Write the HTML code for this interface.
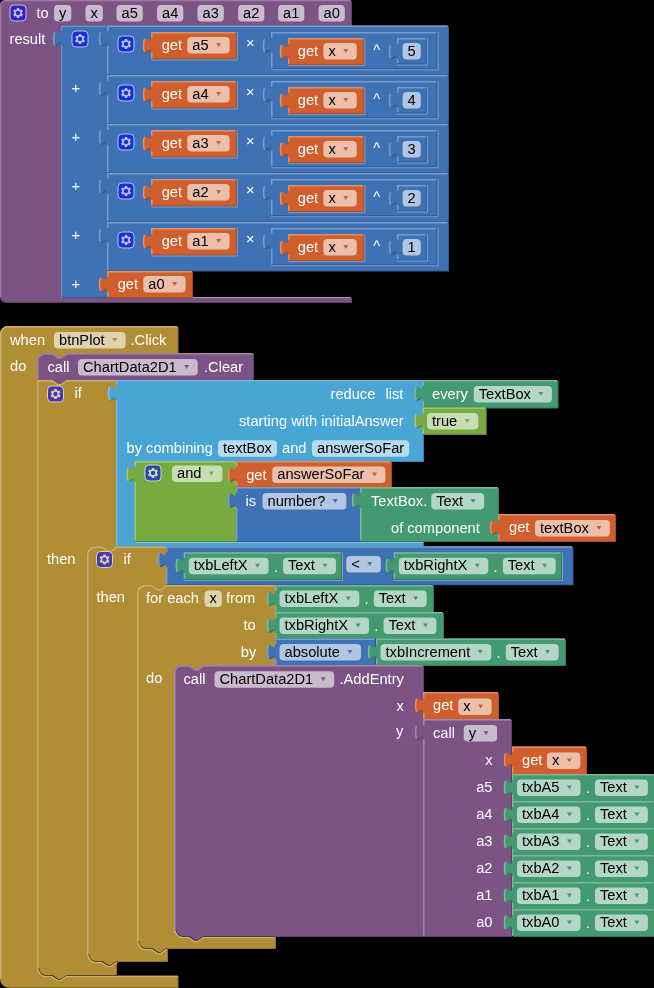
<!DOCTYPE html>
<html><head><meta charset="utf-8"><style>
html,body{margin:0;padding:0;background:#000;overflow:hidden;width:654px;height:988px;}
svg{display:block;will-change:transform;}
text{font-family:"Liberation Sans",sans-serif;font-size:14.67px;}
</style></head><body>
<svg width="654" height="988" viewBox="0 0 654 988">
<path transform="translate(1,1)" fill="#63426A" d="M 0,5 a5,5 0 0 1 5,-5 H 351 V 25.5 H 61 V 297 H 351 V 302 H 5 a5,5 0 0 1 -5,-5 Z"/>
<path fill="#7C5385" d="M 0,5 a5,5 0 0 1 5,-5 H 351 V 25.5 H 61 V 297 H 351 V 302 H 5 a5,5 0 0 1 -5,-5 Z"/>
<path fill="none" stroke="#A387AA" stroke-width="1" d="M 0.75,297 V 5 a4.25,4.25 0 0 1 4.25,-4.25 H 350.5"/>
<path fill="none" stroke="#B098B6" d="M 61,297.5 H 350.5"/>
<g transform="translate(10,5)" opacity="0.6"><rect rx="4" ry="4" width="16" height="16" fill="#00f" stroke="#fff" stroke-width="1"/><path fill="#fff" d="m4.203,7.296 0,1.368 -0.92,0.677 -0.11,0.41 0.9,1.559 0.41,0.11 1.043,-0.457 1.187,0.683 0.127,1.134 0.3,0.3 1.8,0 0.3,-0.299 0.127,-1.138 1.185,-0.682 1.046,0.458 0.409,-0.11 0.9,-1.559 -0.11,-0.41 -0.92,-0.677 0,-1.366 0.92,-0.677 0.11,-0.41 -0.9,-1.559 -0.409,-0.109 -1.046,0.458 -1.185,-0.682 -0.127,-1.138 -0.3,-0.299 -1.8,0 -0.3,0.3 -0.126,1.135 -1.187,0.682 -1.043,-0.457 -0.41,0.11 -0.899,1.559 0.108,0.409z"/><circle r="2.7" cx="8" cy="8" fill="#00f" stroke="#fff" stroke-width="1"/></g>
<text x="36.5" y="17.5" fill="#fff" xml:space="preserve">to</text>
<rect x="54" y="5" width="17.33" height="16.5" rx="4" ry="4" fill="#fff" fill-opacity="0.6"/>
<text x="59" y="17.6" fill="#000" xml:space="preserve">y</text>
<rect x="85.5" y="5" width="17.33" height="16.5" rx="4" ry="4" fill="#fff" fill-opacity="0.6"/>
<text x="90.5" y="17.6" fill="#000" xml:space="preserve">x</text>
<rect x="116.5" y="5" width="26.31" height="16.5" rx="4" ry="4" fill="#fff" fill-opacity="0.6"/>
<text x="121.5" y="17.6" fill="#000" xml:space="preserve">a5</text>
<rect x="157" y="5" width="26.31" height="16.5" rx="4" ry="4" fill="#fff" fill-opacity="0.6"/>
<text x="162" y="17.6" fill="#000" xml:space="preserve">a4</text>
<rect x="197.5" y="5" width="26.31" height="16.5" rx="4" ry="4" fill="#fff" fill-opacity="0.6"/>
<text x="202.5" y="17.6" fill="#000" xml:space="preserve">a3</text>
<rect x="238" y="5" width="26.31" height="16.5" rx="4" ry="4" fill="#fff" fill-opacity="0.6"/>
<text x="243" y="17.6" fill="#000" xml:space="preserve">a2</text>
<rect x="278" y="5" width="26.31" height="16.5" rx="4" ry="4" fill="#fff" fill-opacity="0.6"/>
<text x="283" y="17.6" fill="#000" xml:space="preserve">a1</text>
<rect x="318.5" y="5" width="26.31" height="16.5" rx="4" ry="4" fill="#fff" fill-opacity="0.6"/>
<text x="323.5" y="17.6" fill="#000" xml:space="preserve">a0</text>
<text x="9.5" y="44" fill="#fff" xml:space="preserve">result</text>
<path transform="translate(1,1)" fill="#325A91" d="M 61,25.5 H 107 V 297 H 61 V 45.5 c 0,-10 -8,8 -8,-7.5 s 8,2.5 8,-7.5 Z"/>
<path fill="#3F71B5" d="M 61,25.5 H 107 V 297 H 61 V 45.5 c 0,-10 -8,8 -8,-7.5 s 8,2.5 8,-7.5 Z"/>
<path fill="none" stroke="#799CCB" stroke-width="1" d="M 61.75,296.5 V 46 M 61.75,31 V 26.25 H 106.5"/>
<path fill="none" stroke="#799CCB" stroke-width="1.6" d="M 54.7,45.2 C 53.6,43.7 53.6,40.2 53.6,38.7 C 53.6,36.7 53.6,33.7 54.7,32.5"/>
<g transform="translate(72,31)" opacity="0.6"><rect rx="4" ry="4" width="16" height="16" fill="#00f" stroke="#fff" stroke-width="1"/><path fill="#fff" d="m4.203,7.296 0,1.368 -0.92,0.677 -0.11,0.41 0.9,1.559 0.41,0.11 1.043,-0.457 1.187,0.683 0.127,1.134 0.3,0.3 1.8,0 0.3,-0.299 0.127,-1.138 1.185,-0.682 1.046,0.458 0.409,-0.11 0.9,-1.559 -0.11,-0.41 -0.92,-0.677 0,-1.366 0.92,-0.677 0.11,-0.41 -0.9,-1.559 -0.409,-0.109 -1.046,0.458 -1.185,-0.682 -0.127,-1.138 -0.3,-0.299 -1.8,0 -0.3,0.3 -0.126,1.135 -1.187,0.682 -1.043,-0.457 -0.41,0.11 -0.899,1.559 0.108,0.409z"/><circle r="2.7" cx="8" cy="8" fill="#00f" stroke="#fff" stroke-width="1"/></g>
<text x="71.5" y="93" fill="#fff" xml:space="preserve">+</text>
<text x="71.5" y="142" fill="#fff" xml:space="preserve">+</text>
<text x="71.5" y="191" fill="#fff" xml:space="preserve">+</text>
<text x="71.5" y="240" fill="#fff" xml:space="preserve">+</text>
<text x="71.5" y="289" fill="#fff" xml:space="preserve">+</text>
<path transform="translate(1,1)" fill="#325A91" d="M 107,25.5 H 448 V 74.6 H 107 V 46.2 c 0,-10 -8,8 -8,-7.5 s 8,2.5 8,-7.5 Z"/>
<path fill="#3F71B5" d="M 107,25.5 H 448 V 74.6 H 107 V 46.2 c 0,-10 -8,8 -8,-7.5 s 8,2.5 8,-7.5 Z"/>
<path fill="none" stroke="#799CCB" stroke-width="1.5" d="M 107.75,74.1 V 46.2 M 107.75,31.2 V 26.25 H 447.5"/>
<path fill="none" stroke="#799CCB" stroke-width="1.6" d="M 100.7,45.2 C 99.6,43.7 99.6,40.2 99.6,38.7 C 99.6,36.7 99.6,33.7 100.7,32.5"/>
<g transform="translate(118,36)" opacity="0.6"><rect rx="4" ry="4" width="16" height="16" fill="#00f" stroke="#fff" stroke-width="1"/><path fill="#fff" d="m4.203,7.296 0,1.368 -0.92,0.677 -0.11,0.41 0.9,1.559 0.41,0.11 1.043,-0.457 1.187,0.683 0.127,1.134 0.3,0.3 1.8,0 0.3,-0.299 0.127,-1.138 1.185,-0.682 1.046,0.458 0.409,-0.11 0.9,-1.559 -0.11,-0.41 -0.92,-0.677 0,-1.366 0.92,-0.677 0.11,-0.41 -0.9,-1.559 -0.409,-0.109 -1.046,0.458 -1.185,-0.682 -0.127,-1.138 -0.3,-0.299 -1.8,0 -0.3,0.3 -0.126,1.135 -1.187,0.682 -1.043,-0.457 -0.41,0.11 -0.899,1.559 0.108,0.409z"/><circle r="2.7" cx="8" cy="8" fill="#00f" stroke="#fff" stroke-width="1"/></g>
<path transform="translate(1,1)" fill="#A64C24" d="M 151,32 H 235.8 V 58.5 H 151 V 52.7 c 0,-10 -8,8 -8,-7.5 s 8,2.5 8,-7.5 Z"/>
<path fill="#D05F2D" d="M 151,32 H 235.8 V 58.5 H 151 V 52.7 c 0,-10 -8,8 -8,-7.5 s 8,2.5 8,-7.5 Z"/>
<path fill="none" stroke="#DE8F6C" stroke-width="1.5" d="M 151.75,58 V 52.7 M 151.75,37.7 V 32.75 H 235.3"/>
<path fill="none" stroke="#DE8F6C" stroke-width="1.6" d="M 144.7,51.7 C 143.6,50.2 143.6,46.7 143.6,45.2 C 143.6,43.2 143.6,40.2 144.7,39"/>
<text x="161.7" y="50" fill="#fff" xml:space="preserve">get</text>
<rect x="187.3" y="37" width="42.31" height="16.5" rx="4" ry="4" fill="#fff" fill-opacity="0.6"/>
<text x="192.3" y="49.6" fill="#000" xml:space="preserve">a5</text>
<path fill="#D05F2D" d="M 216.11,43.05 h 5 l -2.5,4 z"/>
<path fill="none" stroke="#799CCB" d="M 151,60 H 237.3 V 32"/>
<text x="246" y="47.5" fill="#fff" xml:space="preserve">×</text>
<path transform="translate(1,1)" fill="#325A91" d="M 271,32 H 436.6 V 68.3 H 271 V 52.7 c 0,-10 -8,8 -8,-7.5 s 8,2.5 8,-7.5 Z"/>
<path fill="#3F71B5" d="M 271,32 H 436.6 V 68.3 H 271 V 52.7 c 0,-10 -8,8 -8,-7.5 s 8,2.5 8,-7.5 Z"/>
<path fill="none" stroke="#799CCB" stroke-width="1.5" d="M 271.75,67.8 V 52.7 M 271.75,37.7 V 32.75 H 436.1"/>
<path fill="none" stroke="#799CCB" stroke-width="1.6" d="M 264.7,51.7 C 263.6,50.2 263.6,46.7 263.6,45.2 C 263.6,43.2 263.6,40.2 264.7,39"/>
<path fill="none" stroke="#799CCB" d="M 271,69.8 H 438.1 V 32"/>
<path transform="translate(1,1)" fill="#A64C24" d="M 288,38 H 363.4 V 64.2 H 288 V 58.7 c 0,-10 -8,8 -8,-7.5 s 8,2.5 8,-7.5 Z"/>
<path fill="#D05F2D" d="M 288,38 H 363.4 V 64.2 H 288 V 58.7 c 0,-10 -8,8 -8,-7.5 s 8,2.5 8,-7.5 Z"/>
<path fill="none" stroke="#DE8F6C" stroke-width="1.5" d="M 288.75,63.7 V 58.7 M 288.75,43.7 V 38.75 H 362.9"/>
<path fill="none" stroke="#DE8F6C" stroke-width="1.6" d="M 281.7,57.7 C 280.6,56.2 280.6,52.7 280.6,51.2 C 280.6,49.2 280.6,46.2 281.7,45"/>
<text x="297.8" y="56" fill="#fff" xml:space="preserve">get</text>
<rect x="323.4" y="43" width="33.33" height="16.5" rx="4" ry="4" fill="#fff" fill-opacity="0.6"/>
<text x="328.4" y="55.6" fill="#000" xml:space="preserve">x</text>
<path fill="#D05F2D" d="M 343.23,49.05 h 5 l -2.5,4 z"/>
<path fill="none" stroke="#799CCB" d="M 288,65.7 H 364.9 V 38"/>
<text x="373.2" y="54.8" fill="#fff" xml:space="preserve">^</text>
<path transform="translate(1,1)" fill="#325A91" d="M 397,38 H 425.9 V 63.6 H 397 V 58.7 c 0,-10 -8,8 -8,-7.5 s 8,2.5 8,-7.5 Z"/>
<path fill="#3F71B5" d="M 397,38 H 425.9 V 63.6 H 397 V 58.7 c 0,-10 -8,8 -8,-7.5 s 8,2.5 8,-7.5 Z"/>
<path fill="none" stroke="#799CCB" stroke-width="1.5" d="M 397.75,63.1 V 58.7 M 397.75,43.7 V 38.75 H 425.4"/>
<path fill="none" stroke="#799CCB" stroke-width="1.6" d="M 390.7,57.7 C 389.6,56.2 389.6,52.7 389.6,51.2 C 389.6,49.2 389.6,46.2 390.7,45"/>
<rect x="402.6" y="43" width="18.16" height="16.5" rx="4" ry="4" fill="#fff" fill-opacity="0.6"/>
<text x="407.6" y="55.6" fill="#000" xml:space="preserve">5</text>
<path fill="none" stroke="#799CCB" d="M 397,65.1 H 427.4 V 38"/>
<path transform="translate(1,1)" fill="#325A91" d="M 107,75 H 448 V 123.6 H 107 V 95.7 c 0,-10 -8,8 -8,-7.5 s 8,2.5 8,-7.5 Z"/>
<path fill="#3F71B5" d="M 107,75 H 448 V 123.6 H 107 V 95.7 c 0,-10 -8,8 -8,-7.5 s 8,2.5 8,-7.5 Z"/>
<path fill="none" stroke="#799CCB" stroke-width="1.5" d="M 107.75,123.1 V 95.7 M 107.75,80.7 V 75.75 H 447.5"/>
<path fill="none" stroke="#799CCB" stroke-width="1.6" d="M 100.7,94.7 C 99.6,93.2 99.6,89.7 99.6,88.2 C 99.6,86.2 99.6,83.2 100.7,82"/>
<g transform="translate(118,85)" opacity="0.6"><rect rx="4" ry="4" width="16" height="16" fill="#00f" stroke="#fff" stroke-width="1"/><path fill="#fff" d="m4.203,7.296 0,1.368 -0.92,0.677 -0.11,0.41 0.9,1.559 0.41,0.11 1.043,-0.457 1.187,0.683 0.127,1.134 0.3,0.3 1.8,0 0.3,-0.299 0.127,-1.138 1.185,-0.682 1.046,0.458 0.409,-0.11 0.9,-1.559 -0.11,-0.41 -0.92,-0.677 0,-1.366 0.92,-0.677 0.11,-0.41 -0.9,-1.559 -0.409,-0.109 -1.046,0.458 -1.185,-0.682 -0.127,-1.138 -0.3,-0.299 -1.8,0 -0.3,0.3 -0.126,1.135 -1.187,0.682 -1.043,-0.457 -0.41,0.11 -0.899,1.559 0.108,0.409z"/><circle r="2.7" cx="8" cy="8" fill="#00f" stroke="#fff" stroke-width="1"/></g>
<path transform="translate(1,1)" fill="#A64C24" d="M 151,81 H 235.8 V 107.5 H 151 V 101.7 c 0,-10 -8,8 -8,-7.5 s 8,2.5 8,-7.5 Z"/>
<path fill="#D05F2D" d="M 151,81 H 235.8 V 107.5 H 151 V 101.7 c 0,-10 -8,8 -8,-7.5 s 8,2.5 8,-7.5 Z"/>
<path fill="none" stroke="#DE8F6C" stroke-width="1.5" d="M 151.75,107 V 101.7 M 151.75,86.7 V 81.75 H 235.3"/>
<path fill="none" stroke="#DE8F6C" stroke-width="1.6" d="M 144.7,100.7 C 143.6,99.2 143.6,95.7 143.6,94.2 C 143.6,92.2 143.6,89.2 144.7,88"/>
<text x="161.7" y="99" fill="#fff" xml:space="preserve">get</text>
<rect x="187.3" y="86" width="42.31" height="16.5" rx="4" ry="4" fill="#fff" fill-opacity="0.6"/>
<text x="192.3" y="98.6" fill="#000" xml:space="preserve">a4</text>
<path fill="#D05F2D" d="M 216.11,92.05 h 5 l -2.5,4 z"/>
<path fill="none" stroke="#799CCB" d="M 151,109 H 237.3 V 81"/>
<text x="246" y="96.5" fill="#fff" xml:space="preserve">×</text>
<path transform="translate(1,1)" fill="#325A91" d="M 271,81 H 436.6 V 117.3 H 271 V 101.7 c 0,-10 -8,8 -8,-7.5 s 8,2.5 8,-7.5 Z"/>
<path fill="#3F71B5" d="M 271,81 H 436.6 V 117.3 H 271 V 101.7 c 0,-10 -8,8 -8,-7.5 s 8,2.5 8,-7.5 Z"/>
<path fill="none" stroke="#799CCB" stroke-width="1.5" d="M 271.75,116.8 V 101.7 M 271.75,86.7 V 81.75 H 436.1"/>
<path fill="none" stroke="#799CCB" stroke-width="1.6" d="M 264.7,100.7 C 263.6,99.2 263.6,95.7 263.6,94.2 C 263.6,92.2 263.6,89.2 264.7,88"/>
<path fill="none" stroke="#799CCB" d="M 271,118.8 H 438.1 V 81"/>
<path transform="translate(1,1)" fill="#A64C24" d="M 288,87 H 363.4 V 113.2 H 288 V 107.7 c 0,-10 -8,8 -8,-7.5 s 8,2.5 8,-7.5 Z"/>
<path fill="#D05F2D" d="M 288,87 H 363.4 V 113.2 H 288 V 107.7 c 0,-10 -8,8 -8,-7.5 s 8,2.5 8,-7.5 Z"/>
<path fill="none" stroke="#DE8F6C" stroke-width="1.5" d="M 288.75,112.7 V 107.7 M 288.75,92.7 V 87.75 H 362.9"/>
<path fill="none" stroke="#DE8F6C" stroke-width="1.6" d="M 281.7,106.7 C 280.6,105.2 280.6,101.7 280.6,100.2 C 280.6,98.2 280.6,95.2 281.7,94"/>
<text x="297.8" y="105" fill="#fff" xml:space="preserve">get</text>
<rect x="323.4" y="92" width="33.33" height="16.5" rx="4" ry="4" fill="#fff" fill-opacity="0.6"/>
<text x="328.4" y="104.6" fill="#000" xml:space="preserve">x</text>
<path fill="#D05F2D" d="M 343.23,98.05 h 5 l -2.5,4 z"/>
<path fill="none" stroke="#799CCB" d="M 288,114.7 H 364.9 V 87"/>
<text x="373.2" y="103.8" fill="#fff" xml:space="preserve">^</text>
<path transform="translate(1,1)" fill="#325A91" d="M 397,87 H 425.9 V 112.6 H 397 V 107.7 c 0,-10 -8,8 -8,-7.5 s 8,2.5 8,-7.5 Z"/>
<path fill="#3F71B5" d="M 397,87 H 425.9 V 112.6 H 397 V 107.7 c 0,-10 -8,8 -8,-7.5 s 8,2.5 8,-7.5 Z"/>
<path fill="none" stroke="#799CCB" stroke-width="1.5" d="M 397.75,112.1 V 107.7 M 397.75,92.7 V 87.75 H 425.4"/>
<path fill="none" stroke="#799CCB" stroke-width="1.6" d="M 390.7,106.7 C 389.6,105.2 389.6,101.7 389.6,100.2 C 389.6,98.2 389.6,95.2 390.7,94"/>
<rect x="402.6" y="92" width="18.16" height="16.5" rx="4" ry="4" fill="#fff" fill-opacity="0.6"/>
<text x="407.6" y="104.6" fill="#000" xml:space="preserve">4</text>
<path fill="none" stroke="#799CCB" d="M 397,114.1 H 427.4 V 87"/>
<path transform="translate(1,1)" fill="#325A91" d="M 107,124 H 448 V 172.6 H 107 V 144.7 c 0,-10 -8,8 -8,-7.5 s 8,2.5 8,-7.5 Z"/>
<path fill="#3F71B5" d="M 107,124 H 448 V 172.6 H 107 V 144.7 c 0,-10 -8,8 -8,-7.5 s 8,2.5 8,-7.5 Z"/>
<path fill="none" stroke="#799CCB" stroke-width="1.5" d="M 107.75,172.1 V 144.7 M 107.75,129.7 V 124.75 H 447.5"/>
<path fill="none" stroke="#799CCB" stroke-width="1.6" d="M 100.7,143.7 C 99.6,142.2 99.6,138.7 99.6,137.2 C 99.6,135.2 99.6,132.2 100.7,131"/>
<g transform="translate(118,134)" opacity="0.6"><rect rx="4" ry="4" width="16" height="16" fill="#00f" stroke="#fff" stroke-width="1"/><path fill="#fff" d="m4.203,7.296 0,1.368 -0.92,0.677 -0.11,0.41 0.9,1.559 0.41,0.11 1.043,-0.457 1.187,0.683 0.127,1.134 0.3,0.3 1.8,0 0.3,-0.299 0.127,-1.138 1.185,-0.682 1.046,0.458 0.409,-0.11 0.9,-1.559 -0.11,-0.41 -0.92,-0.677 0,-1.366 0.92,-0.677 0.11,-0.41 -0.9,-1.559 -0.409,-0.109 -1.046,0.458 -1.185,-0.682 -0.127,-1.138 -0.3,-0.299 -1.8,0 -0.3,0.3 -0.126,1.135 -1.187,0.682 -1.043,-0.457 -0.41,0.11 -0.899,1.559 0.108,0.409z"/><circle r="2.7" cx="8" cy="8" fill="#00f" stroke="#fff" stroke-width="1"/></g>
<path transform="translate(1,1)" fill="#A64C24" d="M 151,130 H 235.8 V 156.5 H 151 V 150.7 c 0,-10 -8,8 -8,-7.5 s 8,2.5 8,-7.5 Z"/>
<path fill="#D05F2D" d="M 151,130 H 235.8 V 156.5 H 151 V 150.7 c 0,-10 -8,8 -8,-7.5 s 8,2.5 8,-7.5 Z"/>
<path fill="none" stroke="#DE8F6C" stroke-width="1.5" d="M 151.75,156 V 150.7 M 151.75,135.7 V 130.75 H 235.3"/>
<path fill="none" stroke="#DE8F6C" stroke-width="1.6" d="M 144.7,149.7 C 143.6,148.2 143.6,144.7 143.6,143.2 C 143.6,141.2 143.6,138.2 144.7,137"/>
<text x="161.7" y="148" fill="#fff" xml:space="preserve">get</text>
<rect x="187.3" y="135" width="42.31" height="16.5" rx="4" ry="4" fill="#fff" fill-opacity="0.6"/>
<text x="192.3" y="147.6" fill="#000" xml:space="preserve">a3</text>
<path fill="#D05F2D" d="M 216.11,141.05 h 5 l -2.5,4 z"/>
<path fill="none" stroke="#799CCB" d="M 151,158 H 237.3 V 130"/>
<text x="246" y="145.5" fill="#fff" xml:space="preserve">×</text>
<path transform="translate(1,1)" fill="#325A91" d="M 271,130 H 436.6 V 166.3 H 271 V 150.7 c 0,-10 -8,8 -8,-7.5 s 8,2.5 8,-7.5 Z"/>
<path fill="#3F71B5" d="M 271,130 H 436.6 V 166.3 H 271 V 150.7 c 0,-10 -8,8 -8,-7.5 s 8,2.5 8,-7.5 Z"/>
<path fill="none" stroke="#799CCB" stroke-width="1.5" d="M 271.75,165.8 V 150.7 M 271.75,135.7 V 130.75 H 436.1"/>
<path fill="none" stroke="#799CCB" stroke-width="1.6" d="M 264.7,149.7 C 263.6,148.2 263.6,144.7 263.6,143.2 C 263.6,141.2 263.6,138.2 264.7,137"/>
<path fill="none" stroke="#799CCB" d="M 271,167.8 H 438.1 V 130"/>
<path transform="translate(1,1)" fill="#A64C24" d="M 288,136 H 363.4 V 162.2 H 288 V 156.7 c 0,-10 -8,8 -8,-7.5 s 8,2.5 8,-7.5 Z"/>
<path fill="#D05F2D" d="M 288,136 H 363.4 V 162.2 H 288 V 156.7 c 0,-10 -8,8 -8,-7.5 s 8,2.5 8,-7.5 Z"/>
<path fill="none" stroke="#DE8F6C" stroke-width="1.5" d="M 288.75,161.7 V 156.7 M 288.75,141.7 V 136.75 H 362.9"/>
<path fill="none" stroke="#DE8F6C" stroke-width="1.6" d="M 281.7,155.7 C 280.6,154.2 280.6,150.7 280.6,149.2 C 280.6,147.2 280.6,144.2 281.7,143"/>
<text x="297.8" y="154" fill="#fff" xml:space="preserve">get</text>
<rect x="323.4" y="141" width="33.33" height="16.5" rx="4" ry="4" fill="#fff" fill-opacity="0.6"/>
<text x="328.4" y="153.6" fill="#000" xml:space="preserve">x</text>
<path fill="#D05F2D" d="M 343.23,147.05 h 5 l -2.5,4 z"/>
<path fill="none" stroke="#799CCB" d="M 288,163.7 H 364.9 V 136"/>
<text x="373.2" y="152.8" fill="#fff" xml:space="preserve">^</text>
<path transform="translate(1,1)" fill="#325A91" d="M 397,136 H 425.9 V 161.6 H 397 V 156.7 c 0,-10 -8,8 -8,-7.5 s 8,2.5 8,-7.5 Z"/>
<path fill="#3F71B5" d="M 397,136 H 425.9 V 161.6 H 397 V 156.7 c 0,-10 -8,8 -8,-7.5 s 8,2.5 8,-7.5 Z"/>
<path fill="none" stroke="#799CCB" stroke-width="1.5" d="M 397.75,161.1 V 156.7 M 397.75,141.7 V 136.75 H 425.4"/>
<path fill="none" stroke="#799CCB" stroke-width="1.6" d="M 390.7,155.7 C 389.6,154.2 389.6,150.7 389.6,149.2 C 389.6,147.2 389.6,144.2 390.7,143"/>
<rect x="402.6" y="141" width="18.16" height="16.5" rx="4" ry="4" fill="#fff" fill-opacity="0.6"/>
<text x="407.6" y="153.6" fill="#000" xml:space="preserve">3</text>
<path fill="none" stroke="#799CCB" d="M 397,163.1 H 427.4 V 136"/>
<path transform="translate(1,1)" fill="#325A91" d="M 107,173 H 448 V 221.6 H 107 V 193.7 c 0,-10 -8,8 -8,-7.5 s 8,2.5 8,-7.5 Z"/>
<path fill="#3F71B5" d="M 107,173 H 448 V 221.6 H 107 V 193.7 c 0,-10 -8,8 -8,-7.5 s 8,2.5 8,-7.5 Z"/>
<path fill="none" stroke="#799CCB" stroke-width="1.5" d="M 107.75,221.1 V 193.7 M 107.75,178.7 V 173.75 H 447.5"/>
<path fill="none" stroke="#799CCB" stroke-width="1.6" d="M 100.7,192.7 C 99.6,191.2 99.6,187.7 99.6,186.2 C 99.6,184.2 99.6,181.2 100.7,180"/>
<g transform="translate(118,183)" opacity="0.6"><rect rx="4" ry="4" width="16" height="16" fill="#00f" stroke="#fff" stroke-width="1"/><path fill="#fff" d="m4.203,7.296 0,1.368 -0.92,0.677 -0.11,0.41 0.9,1.559 0.41,0.11 1.043,-0.457 1.187,0.683 0.127,1.134 0.3,0.3 1.8,0 0.3,-0.299 0.127,-1.138 1.185,-0.682 1.046,0.458 0.409,-0.11 0.9,-1.559 -0.11,-0.41 -0.92,-0.677 0,-1.366 0.92,-0.677 0.11,-0.41 -0.9,-1.559 -0.409,-0.109 -1.046,0.458 -1.185,-0.682 -0.127,-1.138 -0.3,-0.299 -1.8,0 -0.3,0.3 -0.126,1.135 -1.187,0.682 -1.043,-0.457 -0.41,0.11 -0.899,1.559 0.108,0.409z"/><circle r="2.7" cx="8" cy="8" fill="#00f" stroke="#fff" stroke-width="1"/></g>
<path transform="translate(1,1)" fill="#A64C24" d="M 151,179 H 235.8 V 205.5 H 151 V 199.7 c 0,-10 -8,8 -8,-7.5 s 8,2.5 8,-7.5 Z"/>
<path fill="#D05F2D" d="M 151,179 H 235.8 V 205.5 H 151 V 199.7 c 0,-10 -8,8 -8,-7.5 s 8,2.5 8,-7.5 Z"/>
<path fill="none" stroke="#DE8F6C" stroke-width="1.5" d="M 151.75,205 V 199.7 M 151.75,184.7 V 179.75 H 235.3"/>
<path fill="none" stroke="#DE8F6C" stroke-width="1.6" d="M 144.7,198.7 C 143.6,197.2 143.6,193.7 143.6,192.2 C 143.6,190.2 143.6,187.2 144.7,186"/>
<text x="161.7" y="197" fill="#fff" xml:space="preserve">get</text>
<rect x="187.3" y="184" width="42.31" height="16.5" rx="4" ry="4" fill="#fff" fill-opacity="0.6"/>
<text x="192.3" y="196.6" fill="#000" xml:space="preserve">a2</text>
<path fill="#D05F2D" d="M 216.11,190.05 h 5 l -2.5,4 z"/>
<path fill="none" stroke="#799CCB" d="M 151,207 H 237.3 V 179"/>
<text x="246" y="194.5" fill="#fff" xml:space="preserve">×</text>
<path transform="translate(1,1)" fill="#325A91" d="M 271,179 H 436.6 V 215.3 H 271 V 199.7 c 0,-10 -8,8 -8,-7.5 s 8,2.5 8,-7.5 Z"/>
<path fill="#3F71B5" d="M 271,179 H 436.6 V 215.3 H 271 V 199.7 c 0,-10 -8,8 -8,-7.5 s 8,2.5 8,-7.5 Z"/>
<path fill="none" stroke="#799CCB" stroke-width="1.5" d="M 271.75,214.8 V 199.7 M 271.75,184.7 V 179.75 H 436.1"/>
<path fill="none" stroke="#799CCB" stroke-width="1.6" d="M 264.7,198.7 C 263.6,197.2 263.6,193.7 263.6,192.2 C 263.6,190.2 263.6,187.2 264.7,186"/>
<path fill="none" stroke="#799CCB" d="M 271,216.8 H 438.1 V 179"/>
<path transform="translate(1,1)" fill="#A64C24" d="M 288,185 H 363.4 V 211.2 H 288 V 205.7 c 0,-10 -8,8 -8,-7.5 s 8,2.5 8,-7.5 Z"/>
<path fill="#D05F2D" d="M 288,185 H 363.4 V 211.2 H 288 V 205.7 c 0,-10 -8,8 -8,-7.5 s 8,2.5 8,-7.5 Z"/>
<path fill="none" stroke="#DE8F6C" stroke-width="1.5" d="M 288.75,210.7 V 205.7 M 288.75,190.7 V 185.75 H 362.9"/>
<path fill="none" stroke="#DE8F6C" stroke-width="1.6" d="M 281.7,204.7 C 280.6,203.2 280.6,199.7 280.6,198.2 C 280.6,196.2 280.6,193.2 281.7,192"/>
<text x="297.8" y="203" fill="#fff" xml:space="preserve">get</text>
<rect x="323.4" y="190" width="33.33" height="16.5" rx="4" ry="4" fill="#fff" fill-opacity="0.6"/>
<text x="328.4" y="202.6" fill="#000" xml:space="preserve">x</text>
<path fill="#D05F2D" d="M 343.23,196.05 h 5 l -2.5,4 z"/>
<path fill="none" stroke="#799CCB" d="M 288,212.7 H 364.9 V 185"/>
<text x="373.2" y="201.8" fill="#fff" xml:space="preserve">^</text>
<path transform="translate(1,1)" fill="#325A91" d="M 397,185 H 425.9 V 210.6 H 397 V 205.7 c 0,-10 -8,8 -8,-7.5 s 8,2.5 8,-7.5 Z"/>
<path fill="#3F71B5" d="M 397,185 H 425.9 V 210.6 H 397 V 205.7 c 0,-10 -8,8 -8,-7.5 s 8,2.5 8,-7.5 Z"/>
<path fill="none" stroke="#799CCB" stroke-width="1.5" d="M 397.75,210.1 V 205.7 M 397.75,190.7 V 185.75 H 425.4"/>
<path fill="none" stroke="#799CCB" stroke-width="1.6" d="M 390.7,204.7 C 389.6,203.2 389.6,199.7 389.6,198.2 C 389.6,196.2 389.6,193.2 390.7,192"/>
<rect x="402.6" y="190" width="18.16" height="16.5" rx="4" ry="4" fill="#fff" fill-opacity="0.6"/>
<text x="407.6" y="202.6" fill="#000" xml:space="preserve">2</text>
<path fill="none" stroke="#799CCB" d="M 397,212.1 H 427.4 V 185"/>
<path transform="translate(1,1)" fill="#325A91" d="M 107,222 H 448 V 270.6 H 107 V 242.7 c 0,-10 -8,8 -8,-7.5 s 8,2.5 8,-7.5 Z"/>
<path fill="#3F71B5" d="M 107,222 H 448 V 270.6 H 107 V 242.7 c 0,-10 -8,8 -8,-7.5 s 8,2.5 8,-7.5 Z"/>
<path fill="none" stroke="#799CCB" stroke-width="1.5" d="M 107.75,270.1 V 242.7 M 107.75,227.7 V 222.75 H 447.5"/>
<path fill="none" stroke="#799CCB" stroke-width="1.6" d="M 100.7,241.7 C 99.6,240.2 99.6,236.7 99.6,235.2 C 99.6,233.2 99.6,230.2 100.7,229"/>
<g transform="translate(118,232)" opacity="0.6"><rect rx="4" ry="4" width="16" height="16" fill="#00f" stroke="#fff" stroke-width="1"/><path fill="#fff" d="m4.203,7.296 0,1.368 -0.92,0.677 -0.11,0.41 0.9,1.559 0.41,0.11 1.043,-0.457 1.187,0.683 0.127,1.134 0.3,0.3 1.8,0 0.3,-0.299 0.127,-1.138 1.185,-0.682 1.046,0.458 0.409,-0.11 0.9,-1.559 -0.11,-0.41 -0.92,-0.677 0,-1.366 0.92,-0.677 0.11,-0.41 -0.9,-1.559 -0.409,-0.109 -1.046,0.458 -1.185,-0.682 -0.127,-1.138 -0.3,-0.299 -1.8,0 -0.3,0.3 -0.126,1.135 -1.187,0.682 -1.043,-0.457 -0.41,0.11 -0.899,1.559 0.108,0.409z"/><circle r="2.7" cx="8" cy="8" fill="#00f" stroke="#fff" stroke-width="1"/></g>
<path transform="translate(1,1)" fill="#A64C24" d="M 151,228 H 235.8 V 254.5 H 151 V 248.7 c 0,-10 -8,8 -8,-7.5 s 8,2.5 8,-7.5 Z"/>
<path fill="#D05F2D" d="M 151,228 H 235.8 V 254.5 H 151 V 248.7 c 0,-10 -8,8 -8,-7.5 s 8,2.5 8,-7.5 Z"/>
<path fill="none" stroke="#DE8F6C" stroke-width="1.5" d="M 151.75,254 V 248.7 M 151.75,233.7 V 228.75 H 235.3"/>
<path fill="none" stroke="#DE8F6C" stroke-width="1.6" d="M 144.7,247.7 C 143.6,246.2 143.6,242.7 143.6,241.2 C 143.6,239.2 143.6,236.2 144.7,235"/>
<text x="161.7" y="246" fill="#fff" xml:space="preserve">get</text>
<rect x="187.3" y="233" width="42.31" height="16.5" rx="4" ry="4" fill="#fff" fill-opacity="0.6"/>
<text x="192.3" y="245.6" fill="#000" xml:space="preserve">a1</text>
<path fill="#D05F2D" d="M 216.11,239.05 h 5 l -2.5,4 z"/>
<path fill="none" stroke="#799CCB" d="M 151,256 H 237.3 V 228"/>
<text x="246" y="243.5" fill="#fff" xml:space="preserve">×</text>
<path transform="translate(1,1)" fill="#325A91" d="M 271,228 H 436.6 V 264.3 H 271 V 248.7 c 0,-10 -8,8 -8,-7.5 s 8,2.5 8,-7.5 Z"/>
<path fill="#3F71B5" d="M 271,228 H 436.6 V 264.3 H 271 V 248.7 c 0,-10 -8,8 -8,-7.5 s 8,2.5 8,-7.5 Z"/>
<path fill="none" stroke="#799CCB" stroke-width="1.5" d="M 271.75,263.8 V 248.7 M 271.75,233.7 V 228.75 H 436.1"/>
<path fill="none" stroke="#799CCB" stroke-width="1.6" d="M 264.7,247.7 C 263.6,246.2 263.6,242.7 263.6,241.2 C 263.6,239.2 263.6,236.2 264.7,235"/>
<path fill="none" stroke="#799CCB" d="M 271,265.8 H 438.1 V 228"/>
<path transform="translate(1,1)" fill="#A64C24" d="M 288,234 H 363.4 V 260.2 H 288 V 254.7 c 0,-10 -8,8 -8,-7.5 s 8,2.5 8,-7.5 Z"/>
<path fill="#D05F2D" d="M 288,234 H 363.4 V 260.2 H 288 V 254.7 c 0,-10 -8,8 -8,-7.5 s 8,2.5 8,-7.5 Z"/>
<path fill="none" stroke="#DE8F6C" stroke-width="1.5" d="M 288.75,259.7 V 254.7 M 288.75,239.7 V 234.75 H 362.9"/>
<path fill="none" stroke="#DE8F6C" stroke-width="1.6" d="M 281.7,253.7 C 280.6,252.2 280.6,248.7 280.6,247.2 C 280.6,245.2 280.6,242.2 281.7,241"/>
<text x="297.8" y="252" fill="#fff" xml:space="preserve">get</text>
<rect x="323.4" y="239" width="33.33" height="16.5" rx="4" ry="4" fill="#fff" fill-opacity="0.6"/>
<text x="328.4" y="251.6" fill="#000" xml:space="preserve">x</text>
<path fill="#D05F2D" d="M 343.23,245.05 h 5 l -2.5,4 z"/>
<path fill="none" stroke="#799CCB" d="M 288,261.7 H 364.9 V 234"/>
<text x="373.2" y="250.8" fill="#fff" xml:space="preserve">^</text>
<path transform="translate(1,1)" fill="#325A91" d="M 397,234 H 425.9 V 259.6 H 397 V 254.7 c 0,-10 -8,8 -8,-7.5 s 8,2.5 8,-7.5 Z"/>
<path fill="#3F71B5" d="M 397,234 H 425.9 V 259.6 H 397 V 254.7 c 0,-10 -8,8 -8,-7.5 s 8,2.5 8,-7.5 Z"/>
<path fill="none" stroke="#799CCB" stroke-width="1.5" d="M 397.75,259.1 V 254.7 M 397.75,239.7 V 234.75 H 425.4"/>
<path fill="none" stroke="#799CCB" stroke-width="1.6" d="M 390.7,253.7 C 389.6,252.2 389.6,248.7 389.6,247.2 C 389.6,245.2 389.6,242.2 390.7,241"/>
<rect x="402.6" y="239" width="18.16" height="16.5" rx="4" ry="4" fill="#fff" fill-opacity="0.6"/>
<text x="407.6" y="251.6" fill="#000" xml:space="preserve">1</text>
<path fill="none" stroke="#799CCB" d="M 397,261.1 H 427.4 V 234"/>
<path transform="translate(1,1)" fill="#A64C24" d="M 107,271 H 192 V 297 H 107 V 291.7 c 0,-10 -8,8 -8,-7.5 s 8,2.5 8,-7.5 Z"/>
<path fill="#D05F2D" d="M 107,271 H 192 V 297 H 107 V 291.7 c 0,-10 -8,8 -8,-7.5 s 8,2.5 8,-7.5 Z"/>
<path fill="none" stroke="#DE8F6C" stroke-width="1.5" d="M 107.75,296.5 V 291.7 M 107.75,276.7 V 271.75 H 191.5"/>
<path fill="none" stroke="#DE8F6C" stroke-width="1.6" d="M 100.7,290.7 C 99.6,289.2 99.6,285.7 99.6,284.2 C 99.6,282.2 99.6,279.2 100.7,278"/>
<text x="117.7" y="289" fill="#fff" xml:space="preserve">get</text>
<rect x="143.3" y="276" width="42.31" height="16.5" rx="4" ry="4" fill="#fff" fill-opacity="0.6"/>
<text x="148.3" y="288.6" fill="#000" xml:space="preserve">a0</text>
<path fill="#D05F2D" d="M 172.11,282.05 h 5 l -2.5,4 z"/>
<path transform="translate(1,1)" fill="#8E722A" d="M 0,334 a8,8 0 0 1 8,-8 H 177.5 H 177.5 V 353 H 67 l -6,4 -3,0 -6,-4 H 45 a8,8 0 0 0 -8,8 V 967 a8,8 0 0 0 8,8 H 177.5 V 987 H 8 a8,8 0 0 1 -8,-8 Z"/>
<path fill="#B18E35" d="M 0,334 a8,8 0 0 1 8,-8 H 177.5 H 177.5 V 353 H 67 l -6,4 -3,0 -6,-4 H 45 a8,8 0 0 0 -8,8 V 967 a8,8 0 0 0 8,8 H 177.5 V 987 H 8 a8,8 0 0 1 -8,-8 Z"/>
<path fill="none" stroke="#C8B072" stroke-width="1.5" d="M 0.75,979 V 334 a7.25,7.25 0 0 1 7.25,-7.25 H 177"/>
<text x="10" y="345" fill="#fff" xml:space="preserve">when</text>
<rect x="54" y="332" width="71.66" height="16.5" rx="4" ry="4" fill="#fff" fill-opacity="0.6"/>
<text x="59" y="344.6" fill="#000" xml:space="preserve">btnPlot</text>
<path fill="#B18E35" d="M 112.16,338.05 h 5 l -2.5,4 z"/>
<text x="130.5" y="345" fill="#fff" xml:space="preserve">.Click</text>
<text x="10" y="370.5" fill="#fff" xml:space="preserve">do</text>
<path transform="translate(1,1)" fill="#63426A" d="M 37,361 a8,8 0 0 1 8,-8 H 52 l 6,4 3,0 6,-4 H 253 V 380 H 67 l -6,4 -3,0 -6,-4 H 37 Z"/>
<path fill="#7C5385" d="M 37,361 a8,8 0 0 1 8,-8 H 52 l 6,4 3,0 6,-4 H 253 V 380 H 67 l -6,4 -3,0 -6,-4 H 37 Z"/>
<path fill="none" stroke="#A387AA" stroke-width="1.5" d="M 37.75,379.5 V 361 a7.25,7.25 0 0 1 7.25,-7.25 H 52 l 6,4 3,0 6,-4 H 252.5"/>
<text x="47.5" y="372" fill="#fff" xml:space="preserve">call</text>
<rect x="78" y="359" width="119.7" height="16.5" rx="4" ry="4" fill="#fff" fill-opacity="0.6"/>
<text x="83" y="371.6" fill="#000" xml:space="preserve">ChartData2D1</text>
<path fill="#7C5385" d="M 184.2,365.05 h 5 l -2.5,4 z"/>
<text x="204" y="372" fill="#fff" xml:space="preserve">.Clear</text>
<path transform="translate(1,1)" fill="#8E722A" d="M 37,380 H 52 l 6,4 3,0 6,-4 H 116 H 116 V 546.5 H 117 l -6,4 -3,0 -6,-4 H 95 a8,8 0 0 0 -8,8 V 953 a8,8 0 0 0 8,8 H 116 V 975 H 67 l -6,4 -3,0 -6,-4 H 45 a8,8 0 0 1 -8,-8 Z"/>
<path fill="#B18E35" d="M 37,380 H 52 l 6,4 3,0 6,-4 H 116 H 116 V 546.5 H 117 l -6,4 -3,0 -6,-4 H 95 a8,8 0 0 0 -8,8 V 953 a8,8 0 0 0 8,8 H 116 V 975 H 67 l -6,4 -3,0 -6,-4 H 45 a8,8 0 0 1 -8,-8 Z"/>
<path fill="none" stroke="#C8B072" stroke-width="1.5" d="M 37.75,967 V 380.75 H 52 l 6,4 3,0 6,-4 H 115.5"/>
<g transform="translate(47.5,386)" opacity="0.6"><rect rx="4" ry="4" width="16" height="16" fill="#00f" stroke="#fff" stroke-width="1"/><path fill="#fff" d="m4.203,7.296 0,1.368 -0.92,0.677 -0.11,0.41 0.9,1.559 0.41,0.11 1.043,-0.457 1.187,0.683 0.127,1.134 0.3,0.3 1.8,0 0.3,-0.299 0.127,-1.138 1.185,-0.682 1.046,0.458 0.409,-0.11 0.9,-1.559 -0.11,-0.41 -0.92,-0.677 0,-1.366 0.92,-0.677 0.11,-0.41 -0.9,-1.559 -0.409,-0.109 -1.046,0.458 -1.185,-0.682 -0.127,-1.138 -0.3,-0.299 -1.8,0 -0.3,0.3 -0.126,1.135 -1.187,0.682 -1.043,-0.457 -0.41,0.11 -0.899,1.559 0.108,0.409z"/><circle r="2.7" cx="8" cy="8" fill="#00f" stroke="#fff" stroke-width="1"/></g>
<text x="74.5" y="397.5" fill="#fff" xml:space="preserve">if</text>
<text x="47" y="564" fill="#fff" xml:space="preserve">then</text>
<path transform="translate(1,1)" fill="#3A85AA" d="M 116,380 H 423 V 461 H 134.5 V 541 H 423 V 546.5 H 116 V 400.7 c 0,-10 -8,8 -8,-7.5 s 8,2.5 8,-7.5 Z"/>
<path fill="#49A6D4" d="M 116,380 H 423 V 461 H 134.5 V 541 H 423 V 546.5 H 116 V 400.7 c 0,-10 -8,8 -8,-7.5 s 8,2.5 8,-7.5 Z"/>
<path fill="none" stroke="#80C1E1" stroke-width="1" d="M 116.75,546 V 400 M 116.75,385 V 380.75 H 422.5"/>
<path fill="none" stroke="#80C1E1" stroke-width="1.6" d="M 109.7,399.7 C 108.6,398.2 108.6,394.7 108.6,393.2 C 108.6,391.2 108.6,388.2 109.7,387"/>
<text x="330.5" y="399" fill="#fff" xml:space="preserve">reduce</text>
<text x="385.5" y="399" fill="#fff" xml:space="preserve">list</text>
<text x="239" y="426" fill="#fff" xml:space="preserve">starting with initialAnswer</text>
<text x="126.5" y="452.5" fill="#fff" xml:space="preserve">by combining</text>
<rect x="218" y="440.3" width="58.91" height="16.5" rx="4" ry="4" fill="#fff" fill-opacity="0.6"/>
<text x="223" y="452.9" fill="#000" xml:space="preserve">textBox</text>
<text x="282" y="452.5" fill="#fff" xml:space="preserve">and</text>
<rect x="312" y="440.3" width="97.17" height="16.5" rx="4" ry="4" fill="#fff" fill-opacity="0.6"/>
<text x="317" y="452.9" fill="#000" xml:space="preserve">answerSoFar</text>
<path transform="translate(1,1)" fill="#367A5A" d="M 422.5,380 H 557.5 V 407.5 H 422.5 V 400.7 c 0,-10 -8,8 -8,-7.5 s 8,2.5 8,-7.5 Z"/>
<path fill="#439970" d="M 422.5,380 H 557.5 V 407.5 H 422.5 V 400.7 c 0,-10 -8,8 -8,-7.5 s 8,2.5 8,-7.5 Z"/>
<path fill="none" stroke="#7BB89B" stroke-width="1.5" d="M 423.25,407 V 400.7 M 423.25,385.7 V 380.75 H 557"/>
<path fill="none" stroke="#7BB89B" stroke-width="1.6" d="M 416.2,399.7 C 415.1,398.2 415.1,394.7 415.1,393.2 C 415.1,391.2 415.1,388.2 416.2,387"/>
<text x="432" y="398.5" fill="#fff" xml:space="preserve">every</text>
<rect x="473.75" y="386" width="78.16" height="16.5" rx="4" ry="4" fill="#fff" fill-opacity="0.6"/>
<text x="478.75" y="398.6" fill="#000" xml:space="preserve">TextBox</text>
<path fill="#439970" d="M 538.41,392.05 h 5 l -2.5,4 z"/>
<path transform="translate(1,1)" fill="#5F8934" d="M 422.5,407.5 H 485.75 V 434 H 422.5 V 428.2 c 0,-10 -8,8 -8,-7.5 s 8,2.5 8,-7.5 Z"/>
<path fill="#77AB41" d="M 422.5,407.5 H 485.75 V 434 H 422.5 V 428.2 c 0,-10 -8,8 -8,-7.5 s 8,2.5 8,-7.5 Z"/>
<path fill="none" stroke="#A0C47A" stroke-width="1.5" d="M 423.25,433.5 V 428.2 M 423.25,413.2 V 408.25 H 485.25"/>
<path fill="none" stroke="#A0C47A" stroke-width="1.6" d="M 416.2,427.2 C 415.1,425.7 415.1,422.2 415.1,420.7 C 415.1,418.7 415.1,415.7 416.2,414.5"/>
<rect x="427" y="413" width="51.27" height="16.5" rx="4" ry="4" fill="#fff" fill-opacity="0.6"/>
<text x="432" y="425.6" fill="#000" xml:space="preserve">true</text>
<path fill="#77AB41" d="M 464.77,419.05 h 5 l -2.5,4 z"/>
<path transform="translate(1,1)" fill="#5F8934" d="M 134.5,461 H 236 V 541 H 134.5 V 481.7 c 0,-10 -8,8 -8,-7.5 s 8,2.5 8,-7.5 Z"/>
<path fill="#77AB41" d="M 134.5,461 H 236 V 541 H 134.5 V 481.7 c 0,-10 -8,8 -8,-7.5 s 8,2.5 8,-7.5 Z"/>
<path fill="none" stroke="#A0C47A" stroke-width="1.5" d="M 135.25,540.5 V 481.7 M 135.25,466.7 V 461.75 H 235.5"/>
<path fill="none" stroke="#A0C47A" stroke-width="1.6" d="M 128.2,480.7 C 127.1,479.2 127.1,475.7 127.1,474.2 C 127.1,472.2 127.1,469.2 128.2,468"/>
<g transform="translate(145,465)" opacity="0.6"><rect rx="4" ry="4" width="16" height="16" fill="#00f" stroke="#fff" stroke-width="1"/><path fill="#fff" d="m4.203,7.296 0,1.368 -0.92,0.677 -0.11,0.41 0.9,1.559 0.41,0.11 1.043,-0.457 1.187,0.683 0.127,1.134 0.3,0.3 1.8,0 0.3,-0.299 0.127,-1.138 1.185,-0.682 1.046,0.458 0.409,-0.11 0.9,-1.559 -0.11,-0.41 -0.92,-0.677 0,-1.366 0.92,-0.677 0.11,-0.41 -0.9,-1.559 -0.409,-0.109 -1.046,0.458 -1.185,-0.682 -0.127,-1.138 -0.3,-0.299 -1.8,0 -0.3,0.3 -0.126,1.135 -1.187,0.682 -1.043,-0.457 -0.41,0.11 -0.899,1.559 0.108,0.409z"/><circle r="2.7" cx="8" cy="8" fill="#00f" stroke="#fff" stroke-width="1"/></g>
<rect x="172" y="465.5" width="50.47" height="16.5" rx="4" ry="4" fill="#fff" fill-opacity="0.6"/>
<text x="177" y="478.1" fill="#000" xml:space="preserve">and</text>
<path fill="#77AB41" d="M 208.97,471.55 h 5 l -2.5,4 z"/>
<path transform="translate(1,1)" fill="#A64C24" d="M 236,461 H 391 V 487 H 236 V 481.7 c 0,-10 -8,8 -8,-7.5 s 8,2.5 8,-7.5 Z"/>
<path fill="#D05F2D" d="M 236,461 H 391 V 487 H 236 V 481.7 c 0,-10 -8,8 -8,-7.5 s 8,2.5 8,-7.5 Z"/>
<path fill="none" stroke="#DE8F6C" stroke-width="1.5" d="M 236.75,486.5 V 481.7 M 236.75,466.7 V 461.75 H 390.5"/>
<path fill="none" stroke="#DE8F6C" stroke-width="1.6" d="M 229.7,480.7 C 228.6,479.2 228.6,475.7 228.6,474.2 C 228.6,472.2 228.6,469.2 229.7,468"/>
<text x="246.2" y="479.5" fill="#fff" xml:space="preserve">get</text>
<rect x="272.3" y="466.5" width="113.17" height="16.5" rx="4" ry="4" fill="#fff" fill-opacity="0.6"/>
<text x="277.3" y="479.1" fill="#000" xml:space="preserve">answerSoFar</text>
<path fill="#D05F2D" d="M 371.97,472.55 h 5 l -2.5,4 z"/>
<path transform="translate(1,1)" fill="#325A91" d="M 236,487 H 360 V 541 H 236 V 507.7 c 0,-10 -8,8 -8,-7.5 s 8,2.5 8,-7.5 Z"/>
<path fill="#3F71B5" d="M 236,487 H 360 V 541 H 236 V 507.7 c 0,-10 -8,8 -8,-7.5 s 8,2.5 8,-7.5 Z"/>
<path fill="none" stroke="#799CCB" stroke-width="1.5" d="M 236.75,540.5 V 507.7 M 236.75,492.7 V 487.75 H 359.5"/>
<path fill="none" stroke="#799CCB" stroke-width="1.6" d="M 229.7,506.7 C 228.6,505.2 228.6,501.7 228.6,500.2 C 228.6,498.2 228.6,495.2 229.7,494"/>
<text x="245.5" y="505.5" fill="#fff" xml:space="preserve">is</text>
<rect x="262.5" y="493" width="83.86" height="16.5" rx="4" ry="4" fill="#fff" fill-opacity="0.6"/>
<text x="267.5" y="505.6" fill="#000" xml:space="preserve">number?</text>
<path fill="#3F71B5" d="M 332.86,499.05 h 5 l -2.5,4 z"/>
<path transform="translate(1,1)" fill="#367A5A" d="M 360,487 H 498 V 541 H 360 V 507.7 c 0,-10 -8,8 -8,-7.5 s 8,2.5 8,-7.5 Z"/>
<path fill="#439970" d="M 360,487 H 498 V 541 H 360 V 507.7 c 0,-10 -8,8 -8,-7.5 s 8,2.5 8,-7.5 Z"/>
<path fill="none" stroke="#7BB89B" stroke-width="1.5" d="M 360.75,540.5 V 507.7 M 360.75,492.7 V 487.75 H 497.5"/>
<path fill="none" stroke="#7BB89B" stroke-width="1.6" d="M 353.7,506.7 C 352.6,505.2 352.6,501.7 352.6,500.2 C 352.6,498.2 352.6,495.2 353.7,494"/>
<text x="371" y="505.5" fill="#fff" xml:space="preserve">TextBox.</text>
<rect x="431.25" y="493" width="52.89" height="16.5" rx="4" ry="4" fill="#fff" fill-opacity="0.6"/>
<text x="436.25" y="505.6" fill="#000" xml:space="preserve">Text</text>
<path fill="#439970" d="M 470.64,499.05 h 5 l -2.5,4 z"/>
<text x="391" y="532.5" fill="#fff" xml:space="preserve">of component</text>
<path transform="translate(1,1)" fill="#A64C24" d="M 498,514 H 615 V 541 H 498 V 534.7 c 0,-10 -8,8 -8,-7.5 s 8,2.5 8,-7.5 Z"/>
<path fill="#D05F2D" d="M 498,514 H 615 V 541 H 498 V 534.7 c 0,-10 -8,8 -8,-7.5 s 8,2.5 8,-7.5 Z"/>
<path fill="none" stroke="#DE8F6C" stroke-width="1.5" d="M 498.75,540.5 V 534.7 M 498.75,519.7 V 514.75 H 614.5"/>
<path fill="none" stroke="#DE8F6C" stroke-width="1.6" d="M 491.7,533.7 C 490.6,532.2 490.6,528.7 490.6,527.2 C 490.6,525.2 490.6,522.2 491.7,521"/>
<text x="509" y="532" fill="#fff" xml:space="preserve">get</text>
<rect x="535" y="520" width="74.91" height="16.5" rx="4" ry="4" fill="#fff" fill-opacity="0.6"/>
<text x="540" y="532.6" fill="#000" xml:space="preserve">textBox</text>
<path fill="#D05F2D" d="M 596.41,526.05 h 5 l -2.5,4 z"/>
<path fill="none" stroke="#80C1E1" stroke-width="1" d="M 135,542.6 H 423"/>
<path transform="translate(1,1)" fill="#8E722A" d="M 87,554.5 a8,8 0 0 1 8,-8 H 102 l 6,4 3,0 6,-4 H 166 H 166 V 585 H 167 l -6,4 -3,0 -6,-4 H 145 a8,8 0 0 0 -8,8 V 940 a8,8 0 0 0 8,8 H 167 V 961 H 117 l -6,4 -3,0 -6,-4 H 95 a8,8 0 0 1 -8,-8 Z"/>
<path fill="#B18E35" d="M 87,554.5 a8,8 0 0 1 8,-8 H 102 l 6,4 3,0 6,-4 H 166 H 166 V 585 H 167 l -6,4 -3,0 -6,-4 H 145 a8,8 0 0 0 -8,8 V 940 a8,8 0 0 0 8,8 H 167 V 961 H 117 l -6,4 -3,0 -6,-4 H 95 a8,8 0 0 1 -8,-8 Z"/>
<path fill="none" stroke="#C8B072" stroke-width="1.5" d="M 87.75,953 V 554.5 a7.25,7.25 0 0 1 7.25,-7.25 H 102 l 6,4 3,0 6,-4 H 165.5"/>
<g transform="translate(96.5,551.5)" opacity="0.6"><rect rx="4" ry="4" width="16" height="16" fill="#00f" stroke="#fff" stroke-width="1"/><path fill="#fff" d="m4.203,7.296 0,1.368 -0.92,0.677 -0.11,0.41 0.9,1.559 0.41,0.11 1.043,-0.457 1.187,0.683 0.127,1.134 0.3,0.3 1.8,0 0.3,-0.299 0.127,-1.138 1.185,-0.682 1.046,0.458 0.409,-0.11 0.9,-1.559 -0.11,-0.41 -0.92,-0.677 0,-1.366 0.92,-0.677 0.11,-0.41 -0.9,-1.559 -0.409,-0.109 -1.046,0.458 -1.185,-0.682 -0.127,-1.138 -0.3,-0.299 -1.8,0 -0.3,0.3 -0.126,1.135 -1.187,0.682 -1.043,-0.457 -0.41,0.11 -0.899,1.559 0.108,0.409z"/><circle r="2.7" cx="8" cy="8" fill="#00f" stroke="#fff" stroke-width="1"/></g>
<text x="123.5" y="564" fill="#fff" xml:space="preserve">if</text>
<text x="96.5" y="602" fill="#fff" xml:space="preserve">then</text>
<path transform="translate(1,1)" fill="#325A91" d="M 166,546.3 H 572.5 V 584.3 H 166 V 567 c 0,-10 -8,8 -8,-7.5 s 8,2.5 8,-7.5 Z"/>
<path fill="#3F71B5" d="M 166,546.3 H 572.5 V 584.3 H 166 V 567 c 0,-10 -8,8 -8,-7.5 s 8,2.5 8,-7.5 Z"/>
<path fill="none" stroke="#799CCB" stroke-width="1.5" d="M 166.75,583.8 V 567 M 166.75,552 V 547.05 H 572"/>
<path fill="none" stroke="#799CCB" stroke-width="1.6" d="M 159.7,566 C 158.6,564.5 158.6,561 158.6,559.5 C 158.6,557.5 158.6,554.5 159.7,553.3"/>
<path transform="translate(1,1)" fill="#367A5A" d="M 183.75,552.3 H 341 V 579 H 183.75 V 573 c 0,-10 -8,8 -8,-7.5 s 8,2.5 8,-7.5 Z"/>
<path fill="#439970" d="M 183.75,552.3 H 341 V 579 H 183.75 V 573 c 0,-10 -8,8 -8,-7.5 s 8,2.5 8,-7.5 Z"/>
<path fill="none" stroke="#7BB89B" stroke-width="1.5" d="M 184.5,578.5 V 573 M 184.5,558 V 553.05 H 340.5"/>
<path fill="none" stroke="#7BB89B" stroke-width="1.6" d="M 177.45,572 C 176.35,570.5 176.35,567 176.35,565.5 C 176.35,563.5 176.35,560.5 177.45,559.3"/>
<rect x="188.75" y="557.8" width="79.81" height="16.5" rx="4" ry="4" fill="#fff" fill-opacity="0.6"/>
<text x="193.75" y="570.4" fill="#000" xml:space="preserve">txbLeftX</text>
<path fill="#439970" d="M 255.06,563.85 h 5 l -2.5,4 z"/>
<text x="273.86" y="571.5" fill="#fff" xml:space="preserve">.</text>
<rect x="283.06" y="557.8" width="52.89" height="16.5" rx="4" ry="4" fill="#fff" fill-opacity="0.6"/>
<text x="288.06" y="570.4" fill="#000" xml:space="preserve">Text</text>
<path fill="#439970" d="M 322.45,563.85 h 5 l -2.5,4 z"/>
<path fill="none" stroke="#799CCB" d="M 183.75,580.5 H 342.5 V 552.3"/>
<rect x="346.25" y="556" width="34.56" height="16.5" rx="4" ry="4" fill="#fff" fill-opacity="0.6"/>
<text x="351.25" y="568.6" fill="#000" xml:space="preserve">&lt;</text>
<path fill="#3F71B5" d="M 367.31,562.05 h 5 l -2.5,4 z"/>
<path transform="translate(1,1)" fill="#367A5A" d="M 393.75,552.3 H 561 V 579 H 393.75 V 573 c 0,-10 -8,8 -8,-7.5 s 8,2.5 8,-7.5 Z"/>
<path fill="#439970" d="M 393.75,552.3 H 561 V 579 H 393.75 V 573 c 0,-10 -8,8 -8,-7.5 s 8,2.5 8,-7.5 Z"/>
<path fill="none" stroke="#7BB89B" stroke-width="1.5" d="M 394.5,578.5 V 573 M 394.5,558 V 553.05 H 560.5"/>
<path fill="none" stroke="#7BB89B" stroke-width="1.6" d="M 387.45,572 C 386.35,570.5 386.35,567 386.35,565.5 C 386.35,563.5 386.35,560.5 387.45,559.3"/>
<rect x="398.75" y="557.8" width="89.56" height="16.5" rx="4" ry="4" fill="#fff" fill-opacity="0.6"/>
<text x="403.75" y="570.4" fill="#000" xml:space="preserve">txbRightX</text>
<path fill="#439970" d="M 474.81,563.85 h 5 l -2.5,4 z"/>
<text x="493.61" y="571.5" fill="#fff" xml:space="preserve">.</text>
<rect x="502.81" y="557.8" width="52.89" height="16.5" rx="4" ry="4" fill="#fff" fill-opacity="0.6"/>
<text x="507.81" y="570.4" fill="#000" xml:space="preserve">Text</text>
<path fill="#439970" d="M 542.2,563.85 h 5 l -2.5,4 z"/>
<path fill="none" stroke="#799CCB" d="M 393.75,580.5 H 562.5 V 552.3"/>
<path transform="translate(1,1)" fill="#8E722A" d="M 137,593 a8,8 0 0 1 8,-8 H 152 l 6,4 3,0 6,-4 H 275 H 275 V 665 H 204 l -6,4 -3,0 -6,-4 H 182 a8,8 0 0 0 -8,8 V 928 a8,8 0 0 0 8,8 H 275 V 948 H 167 l -6,4 -3,0 -6,-4 H 145 a8,8 0 0 1 -8,-8 Z"/>
<path fill="#B18E35" d="M 137,593 a8,8 0 0 1 8,-8 H 152 l 6,4 3,0 6,-4 H 275 H 275 V 665 H 204 l -6,4 -3,0 -6,-4 H 182 a8,8 0 0 0 -8,8 V 928 a8,8 0 0 0 8,8 H 275 V 948 H 167 l -6,4 -3,0 -6,-4 H 145 a8,8 0 0 1 -8,-8 Z"/>
<path fill="none" stroke="#C8B072" stroke-width="1.5" d="M 137.75,940 V 593 a7.25,7.25 0 0 1 7.25,-7.25 H 152 l 6,4 3,0 6,-4 H 274.5"/>
<text x="146" y="602.5" fill="#fff" xml:space="preserve">for each</text>
<rect x="204.5" y="590.5" width="17.33" height="16.5" rx="4" ry="4" fill="#fff" fill-opacity="0.6"/>
<text x="209.5" y="603.1" fill="#000" xml:space="preserve">x</text>
<text x="226" y="602.5" fill="#fff" xml:space="preserve">from</text>
<text x="243.5" y="630" fill="#fff" xml:space="preserve">to</text>
<text x="240.8" y="656.5" fill="#fff" xml:space="preserve">by</text>
<text x="146" y="682.5" fill="#fff" xml:space="preserve">do</text>
<path transform="translate(1,1)" fill="#367A5A" d="M 275,585 H 433 V 612 H 275 V 605.7 c 0,-10 -8,8 -8,-7.5 s 8,2.5 8,-7.5 Z"/>
<path fill="#439970" d="M 275,585 H 433 V 612 H 275 V 605.7 c 0,-10 -8,8 -8,-7.5 s 8,2.5 8,-7.5 Z"/>
<path fill="none" stroke="#7BB89B" stroke-width="1.5" d="M 275.75,611.5 V 605.7 M 275.75,590.7 V 585.75 H 432.5"/>
<path fill="none" stroke="#7BB89B" stroke-width="1.6" d="M 268.7,604.7 C 267.6,603.2 267.6,599.7 267.6,598.2 C 267.6,596.2 267.6,593.2 268.7,592"/>
<rect x="279.5" y="590.5" width="79.81" height="16.5" rx="4" ry="4" fill="#fff" fill-opacity="0.6"/>
<text x="284.5" y="603.1" fill="#000" xml:space="preserve">txbLeftX</text>
<path fill="#439970" d="M 345.81,596.55 h 5 l -2.5,4 z"/>
<text x="364.61" y="604.2" fill="#fff" xml:space="preserve">.</text>
<rect x="373.81" y="590.5" width="52.89" height="16.5" rx="4" ry="4" fill="#fff" fill-opacity="0.6"/>
<text x="378.81" y="603.1" fill="#000" xml:space="preserve">Text</text>
<path fill="#439970" d="M 413.2,596.55 h 5 l -2.5,4 z"/>
<path transform="translate(1,1)" fill="#367A5A" d="M 275,612 H 443 V 638.5 H 275 V 632.7 c 0,-10 -8,8 -8,-7.5 s 8,2.5 8,-7.5 Z"/>
<path fill="#439970" d="M 275,612 H 443 V 638.5 H 275 V 632.7 c 0,-10 -8,8 -8,-7.5 s 8,2.5 8,-7.5 Z"/>
<path fill="none" stroke="#7BB89B" stroke-width="1.5" d="M 275.75,638 V 632.7 M 275.75,617.7 V 612.75 H 442.5"/>
<path fill="none" stroke="#7BB89B" stroke-width="1.6" d="M 268.7,631.7 C 267.6,630.2 267.6,626.7 267.6,625.2 C 267.6,623.2 267.6,620.2 268.7,619"/>
<rect x="279.5" y="617.5" width="89.56" height="16.5" rx="4" ry="4" fill="#fff" fill-opacity="0.6"/>
<text x="284.5" y="630.1" fill="#000" xml:space="preserve">txbRightX</text>
<path fill="#439970" d="M 355.56,623.55 h 5 l -2.5,4 z"/>
<text x="374.36" y="631.2" fill="#fff" xml:space="preserve">.</text>
<rect x="383.56" y="617.5" width="52.89" height="16.5" rx="4" ry="4" fill="#fff" fill-opacity="0.6"/>
<text x="388.56" y="630.1" fill="#000" xml:space="preserve">Text</text>
<path fill="#439970" d="M 422.95,623.55 h 5 l -2.5,4 z"/>
<path transform="translate(1,1)" fill="#325A91" d="M 275,638.5 H 375 V 665 H 275 V 659.2 c 0,-10 -8,8 -8,-7.5 s 8,2.5 8,-7.5 Z"/>
<path fill="#3F71B5" d="M 275,638.5 H 375 V 665 H 275 V 659.2 c 0,-10 -8,8 -8,-7.5 s 8,2.5 8,-7.5 Z"/>
<path fill="none" stroke="#799CCB" stroke-width="1.5" d="M 275.75,664.5 V 659.2 M 275.75,644.2 V 639.25 H 374.5"/>
<path fill="none" stroke="#799CCB" stroke-width="1.6" d="M 268.7,658.2 C 267.6,656.7 267.6,653.2 267.6,651.7 C 267.6,649.7 267.6,646.7 268.7,645.5"/>
<rect x="279.5" y="644" width="81.44" height="16.5" rx="4" ry="4" fill="#fff" fill-opacity="0.6"/>
<text x="284.5" y="656.6" fill="#000" xml:space="preserve">absolute</text>
<path fill="#3F71B5" d="M 347.44,650.05 h 5 l -2.5,4 z"/>
<path transform="translate(1,1)" fill="#367A5A" d="M 376,638.5 H 565 V 665 H 376 V 659.2 c 0,-10 -8,8 -8,-7.5 s 8,2.5 8,-7.5 Z"/>
<path fill="#439970" d="M 376,638.5 H 565 V 665 H 376 V 659.2 c 0,-10 -8,8 -8,-7.5 s 8,2.5 8,-7.5 Z"/>
<path fill="none" stroke="#7BB89B" stroke-width="1.5" d="M 376.75,664.5 V 659.2 M 376.75,644.2 V 639.25 H 564.5"/>
<path fill="none" stroke="#7BB89B" stroke-width="1.6" d="M 369.7,658.2 C 368.6,656.7 368.6,653.2 368.6,651.7 C 368.6,649.7 368.6,646.7 369.7,645.5"/>
<rect x="380.5" y="644" width="110.75" height="16.5" rx="4" ry="4" fill="#fff" fill-opacity="0.6"/>
<text x="385.5" y="656.6" fill="#000" xml:space="preserve">txbIncrement</text>
<path fill="#439970" d="M 477.75,650.05 h 5 l -2.5,4 z"/>
<text x="496.55" y="657.7" fill="#fff" xml:space="preserve">.</text>
<rect x="505.75" y="644" width="52.89" height="16.5" rx="4" ry="4" fill="#fff" fill-opacity="0.6"/>
<text x="510.75" y="656.6" fill="#000" xml:space="preserve">Text</text>
<path fill="#439970" d="M 545.14,650.05 h 5 l -2.5,4 z"/>
<path transform="translate(1,1)" fill="#63426A" d="M 174,673 a8,8 0 0 1 8,-8 H 189 l 6,4 3,0 6,-4 H 423 H 423 V 692 H 423 V 936 H 204 l -6,4 -3,0 -6,-4 H 182 a8,8 0 0 1 -8,-8 Z"/>
<path fill="#7C5385" d="M 174,673 a8,8 0 0 1 8,-8 H 189 l 6,4 3,0 6,-4 H 423 H 423 V 692 H 423 V 936 H 204 l -6,4 -3,0 -6,-4 H 182 a8,8 0 0 1 -8,-8 Z"/>
<path fill="none" stroke="#A387AA" stroke-width="1.5" d="M 174.75,928 V 673 a7.25,7.25 0 0 1 7.25,-7.25 H 189 l 6,4 3,0 6,-4 H 422.5"/>
<text x="183.5" y="683.5" fill="#fff" xml:space="preserve">call</text>
<rect x="214.5" y="671.25" width="119.7" height="16.5" rx="4" ry="4" fill="#fff" fill-opacity="0.6"/>
<text x="219.5" y="683.85" fill="#000" xml:space="preserve">ChartData2D1</text>
<path fill="#7C5385" d="M 320.7,677.3 h 5 l -2.5,4 z"/>
<text x="339.5" y="683.5" fill="#fff" xml:space="preserve">.AddEntry</text>
<text x="396.5" y="710.5" fill="#fff" xml:space="preserve">x</text>
<text x="396" y="736" fill="#fff" xml:space="preserve">y</text>
<path transform="translate(1,1)" fill="#A64C24" d="M 423,692 H 498 V 719 H 423 V 712.7 c 0,-10 -8,8 -8,-7.5 s 8,2.5 8,-7.5 Z"/>
<path fill="#D05F2D" d="M 423,692 H 498 V 719 H 423 V 712.7 c 0,-10 -8,8 -8,-7.5 s 8,2.5 8,-7.5 Z"/>
<path fill="none" stroke="#DE8F6C" stroke-width="1.5" d="M 423.75,718.5 V 712.7 M 423.75,697.7 V 692.75 H 497.5"/>
<path fill="none" stroke="#DE8F6C" stroke-width="1.6" d="M 416.7,711.7 C 415.6,710.2 415.6,706.7 415.6,705.2 C 415.6,703.2 415.6,700.2 416.7,699"/>
<text x="433" y="710" fill="#fff" xml:space="preserve">get</text>
<rect x="458.25" y="698.5" width="33.33" height="16.5" rx="4" ry="4" fill="#fff" fill-opacity="0.6"/>
<text x="463.25" y="711.1" fill="#000" xml:space="preserve">x</text>
<path fill="#D05F2D" d="M 478.08,704.55 h 5 l -2.5,4 z"/>
<path transform="translate(1,1)" fill="#63426A" d="M 423,719 H 511 V 936 H 423 V 739.7 c 0,-10 -8,8 -8,-7.5 s 8,2.5 8,-7.5 Z"/>
<path fill="#7C5385" d="M 423,719 H 511 V 936 H 423 V 739.7 c 0,-10 -8,8 -8,-7.5 s 8,2.5 8,-7.5 Z"/>
<path fill="none" stroke="#A387AA" stroke-width="1.5" d="M 423.75,935.5 V 739.7 M 423.75,724.7 V 719.75 H 510.5"/>
<path fill="none" stroke="#A387AA" stroke-width="1.6" d="M 416.7,738.7 C 415.6,737.2 415.6,733.7 415.6,732.2 C 415.6,730.2 415.6,727.2 416.7,726"/>
<text x="433" y="737.5" fill="#fff" xml:space="preserve">call</text>
<rect x="463.75" y="725" width="33.33" height="16.5" rx="4" ry="4" fill="#fff" fill-opacity="0.6"/>
<text x="468.75" y="737.6" fill="#000" xml:space="preserve">y</text>
<path fill="#7C5385" d="M 483.58,731.05 h 5 l -2.5,4 z"/>
<text x="485.17" y="764.5" fill="#fff" xml:space="preserve">x</text>
<text x="476.19" y="791.5" fill="#fff" xml:space="preserve">a5</text>
<text x="476.19" y="818.5" fill="#fff" xml:space="preserve">a4</text>
<text x="476.19" y="845.5" fill="#fff" xml:space="preserve">a3</text>
<text x="476.19" y="872.5" fill="#fff" xml:space="preserve">a2</text>
<text x="476.19" y="899.5" fill="#fff" xml:space="preserve">a1</text>
<text x="476.19" y="926.5" fill="#fff" xml:space="preserve">a0</text>
<path transform="translate(1,1)" fill="#A64C24" d="M 512,746.5 H 586 V 774 H 512 V 767.2 c 0,-10 -8,8 -8,-7.5 s 8,2.5 8,-7.5 Z"/>
<path fill="#D05F2D" d="M 512,746.5 H 586 V 774 H 512 V 767.2 c 0,-10 -8,8 -8,-7.5 s 8,2.5 8,-7.5 Z"/>
<path fill="none" stroke="#DE8F6C" stroke-width="1.5" d="M 512.75,773.5 V 767.2 M 512.75,752.2 V 747.25 H 585.5"/>
<path fill="none" stroke="#DE8F6C" stroke-width="1.6" d="M 505.7,766.2 C 504.6,764.7 504.6,761.2 504.6,759.7 C 504.6,757.7 504.6,754.7 505.7,753.5"/>
<text x="522" y="764.8" fill="#fff" xml:space="preserve">get</text>
<rect x="547" y="752.5" width="33.33" height="16.5" rx="4" ry="4" fill="#fff" fill-opacity="0.6"/>
<text x="552" y="765.1" fill="#000" xml:space="preserve">x</text>
<path fill="#D05F2D" d="M 566.83,758.55 h 5 l -2.5,4 z"/>
<path transform="translate(1,1)" fill="#367A5A" d="M 512,774 H 654 V 801 H 512 V 794.7 c 0,-10 -8,8 -8,-7.5 s 8,2.5 8,-7.5 Z"/>
<path fill="#439970" d="M 512,774 H 654 V 801 H 512 V 794.7 c 0,-10 -8,8 -8,-7.5 s 8,2.5 8,-7.5 Z"/>
<path fill="none" stroke="#7BB89B" stroke-width="1.5" d="M 512.75,800.5 V 794.7 M 512.75,779.7 V 774.75 H 653.5"/>
<path fill="none" stroke="#7BB89B" stroke-width="1.6" d="M 505.7,793.7 C 504.6,792.2 504.6,788.7 504.6,787.2 C 504.6,785.2 504.6,782.2 505.7,781"/>
<rect x="517" y="779.5" width="63.5" height="16.5" rx="4" ry="4" fill="#fff" fill-opacity="0.6"/>
<text x="522" y="792.1" fill="#000" xml:space="preserve">txbA5</text>
<path fill="#439970" d="M 567,785.55 h 5 l -2.5,4 z"/>
<text x="585.8" y="793.2" fill="#fff" xml:space="preserve">.</text>
<rect x="595" y="779.5" width="52.89" height="16.5" rx="4" ry="4" fill="#fff" fill-opacity="0.6"/>
<text x="600" y="792.1" fill="#000" xml:space="preserve">Text</text>
<path fill="#439970" d="M 634.39,785.55 h 5 l -2.5,4 z"/>
<path transform="translate(1,1)" fill="#367A5A" d="M 512,801 H 654 V 828 H 512 V 821.7 c 0,-10 -8,8 -8,-7.5 s 8,2.5 8,-7.5 Z"/>
<path fill="#439970" d="M 512,801 H 654 V 828 H 512 V 821.7 c 0,-10 -8,8 -8,-7.5 s 8,2.5 8,-7.5 Z"/>
<path fill="none" stroke="#7BB89B" stroke-width="1.5" d="M 512.75,827.5 V 821.7 M 512.75,806.7 V 801.75 H 653.5"/>
<path fill="none" stroke="#7BB89B" stroke-width="1.6" d="M 505.7,820.7 C 504.6,819.2 504.6,815.7 504.6,814.2 C 504.6,812.2 504.6,809.2 505.7,808"/>
<rect x="517" y="806.5" width="63.5" height="16.5" rx="4" ry="4" fill="#fff" fill-opacity="0.6"/>
<text x="522" y="819.1" fill="#000" xml:space="preserve">txbA4</text>
<path fill="#439970" d="M 567,812.55 h 5 l -2.5,4 z"/>
<text x="585.8" y="820.2" fill="#fff" xml:space="preserve">.</text>
<rect x="595" y="806.5" width="52.89" height="16.5" rx="4" ry="4" fill="#fff" fill-opacity="0.6"/>
<text x="600" y="819.1" fill="#000" xml:space="preserve">Text</text>
<path fill="#439970" d="M 634.39,812.55 h 5 l -2.5,4 z"/>
<path transform="translate(1,1)" fill="#367A5A" d="M 512,828 H 654 V 855 H 512 V 848.7 c 0,-10 -8,8 -8,-7.5 s 8,2.5 8,-7.5 Z"/>
<path fill="#439970" d="M 512,828 H 654 V 855 H 512 V 848.7 c 0,-10 -8,8 -8,-7.5 s 8,2.5 8,-7.5 Z"/>
<path fill="none" stroke="#7BB89B" stroke-width="1.5" d="M 512.75,854.5 V 848.7 M 512.75,833.7 V 828.75 H 653.5"/>
<path fill="none" stroke="#7BB89B" stroke-width="1.6" d="M 505.7,847.7 C 504.6,846.2 504.6,842.7 504.6,841.2 C 504.6,839.2 504.6,836.2 505.7,835"/>
<rect x="517" y="833.5" width="63.5" height="16.5" rx="4" ry="4" fill="#fff" fill-opacity="0.6"/>
<text x="522" y="846.1" fill="#000" xml:space="preserve">txbA3</text>
<path fill="#439970" d="M 567,839.55 h 5 l -2.5,4 z"/>
<text x="585.8" y="847.2" fill="#fff" xml:space="preserve">.</text>
<rect x="595" y="833.5" width="52.89" height="16.5" rx="4" ry="4" fill="#fff" fill-opacity="0.6"/>
<text x="600" y="846.1" fill="#000" xml:space="preserve">Text</text>
<path fill="#439970" d="M 634.39,839.55 h 5 l -2.5,4 z"/>
<path transform="translate(1,1)" fill="#367A5A" d="M 512,855 H 654 V 882 H 512 V 875.7 c 0,-10 -8,8 -8,-7.5 s 8,2.5 8,-7.5 Z"/>
<path fill="#439970" d="M 512,855 H 654 V 882 H 512 V 875.7 c 0,-10 -8,8 -8,-7.5 s 8,2.5 8,-7.5 Z"/>
<path fill="none" stroke="#7BB89B" stroke-width="1.5" d="M 512.75,881.5 V 875.7 M 512.75,860.7 V 855.75 H 653.5"/>
<path fill="none" stroke="#7BB89B" stroke-width="1.6" d="M 505.7,874.7 C 504.6,873.2 504.6,869.7 504.6,868.2 C 504.6,866.2 504.6,863.2 505.7,862"/>
<rect x="517" y="860.5" width="63.5" height="16.5" rx="4" ry="4" fill="#fff" fill-opacity="0.6"/>
<text x="522" y="873.1" fill="#000" xml:space="preserve">txbA2</text>
<path fill="#439970" d="M 567,866.55 h 5 l -2.5,4 z"/>
<text x="585.8" y="874.2" fill="#fff" xml:space="preserve">.</text>
<rect x="595" y="860.5" width="52.89" height="16.5" rx="4" ry="4" fill="#fff" fill-opacity="0.6"/>
<text x="600" y="873.1" fill="#000" xml:space="preserve">Text</text>
<path fill="#439970" d="M 634.39,866.55 h 5 l -2.5,4 z"/>
<path transform="translate(1,1)" fill="#367A5A" d="M 512,882 H 654 V 909 H 512 V 902.7 c 0,-10 -8,8 -8,-7.5 s 8,2.5 8,-7.5 Z"/>
<path fill="#439970" d="M 512,882 H 654 V 909 H 512 V 902.7 c 0,-10 -8,8 -8,-7.5 s 8,2.5 8,-7.5 Z"/>
<path fill="none" stroke="#7BB89B" stroke-width="1.5" d="M 512.75,908.5 V 902.7 M 512.75,887.7 V 882.75 H 653.5"/>
<path fill="none" stroke="#7BB89B" stroke-width="1.6" d="M 505.7,901.7 C 504.6,900.2 504.6,896.7 504.6,895.2 C 504.6,893.2 504.6,890.2 505.7,889"/>
<rect x="517" y="887.5" width="63.5" height="16.5" rx="4" ry="4" fill="#fff" fill-opacity="0.6"/>
<text x="522" y="900.1" fill="#000" xml:space="preserve">txbA1</text>
<path fill="#439970" d="M 567,893.55 h 5 l -2.5,4 z"/>
<text x="585.8" y="901.2" fill="#fff" xml:space="preserve">.</text>
<rect x="595" y="887.5" width="52.89" height="16.5" rx="4" ry="4" fill="#fff" fill-opacity="0.6"/>
<text x="600" y="900.1" fill="#000" xml:space="preserve">Text</text>
<path fill="#439970" d="M 634.39,893.55 h 5 l -2.5,4 z"/>
<path transform="translate(1,1)" fill="#367A5A" d="M 512,909 H 654 V 936 H 512 V 929.7 c 0,-10 -8,8 -8,-7.5 s 8,2.5 8,-7.5 Z"/>
<path fill="#439970" d="M 512,909 H 654 V 936 H 512 V 929.7 c 0,-10 -8,8 -8,-7.5 s 8,2.5 8,-7.5 Z"/>
<path fill="none" stroke="#7BB89B" stroke-width="1.5" d="M 512.75,935.5 V 929.7 M 512.75,914.7 V 909.75 H 653.5"/>
<path fill="none" stroke="#7BB89B" stroke-width="1.6" d="M 505.7,928.7 C 504.6,927.2 504.6,923.7 504.6,922.2 C 504.6,920.2 504.6,917.2 505.7,916"/>
<rect x="517" y="914.5" width="63.5" height="16.5" rx="4" ry="4" fill="#fff" fill-opacity="0.6"/>
<text x="522" y="927.1" fill="#000" xml:space="preserve">txbA0</text>
<path fill="#439970" d="M 567,920.55 h 5 l -2.5,4 z"/>
<text x="585.8" y="928.2" fill="#fff" xml:space="preserve">.</text>
<rect x="595" y="914.5" width="52.89" height="16.5" rx="4" ry="4" fill="#fff" fill-opacity="0.6"/>
<text x="600" y="927.1" fill="#000" xml:space="preserve">Text</text>
<path fill="#439970" d="M 634.39,920.55 h 5 l -2.5,4 z"/>
<path fill="none" stroke="#1a1410" stroke-opacity="0.85" stroke-width="1.2" d="M 38.5,968 a 7,7.5 0 0 0 7,7.5 H 52 l 6,4 3,0 6,-4 H 177.5"/>
<path fill="none" stroke="#C8B072" stroke-width="1.5" d="M 37.5,967 a 8,9.5 0 0 0 8,9.5 H 51.5 l 6,4 3,0 6,-4 H 177.5"/>
<path fill="none" stroke="#1a1410" stroke-opacity="0.85" stroke-width="1.2" d="M 88.5,954 a 7,7.5 0 0 0 7,7.5 H 102 l 6,4 3,0 6,-4 H 116"/>
<path fill="none" stroke="#C8B072" stroke-width="1.5" d="M 87.5,953 a 8,9.5 0 0 0 8,9.5 H 101.5 l 6,4 3,0 6,-4 H 116"/>
<path fill="none" stroke="#1a1410" stroke-opacity="0.85" stroke-width="1.2" d="M 138.5,941 a 7,7.5 0 0 0 7,7.5 H 152 l 6,4 3,0 6,-4 H 167"/>
<path fill="none" stroke="#C8B072" stroke-width="1.5" d="M 137.5,940 a 8,9.5 0 0 0 8,9.5 H 151.5 l 6,4 3,0 6,-4 H 167"/>
<path fill="none" stroke="#1a1410" stroke-opacity="0.85" stroke-width="1.2" d="M 175.5,929 a 7,7.5 0 0 0 7,7.5 H 189 l 6,4 3,0 6,-4 H 275"/>
<path fill="none" stroke="#C8B072" stroke-width="1.5" d="M 174.5,928 a 8,9.5 0 0 0 8,9.5 H 188.5 l 6,4 3,0 6,-4 H 275"/>
</svg></body></html>
